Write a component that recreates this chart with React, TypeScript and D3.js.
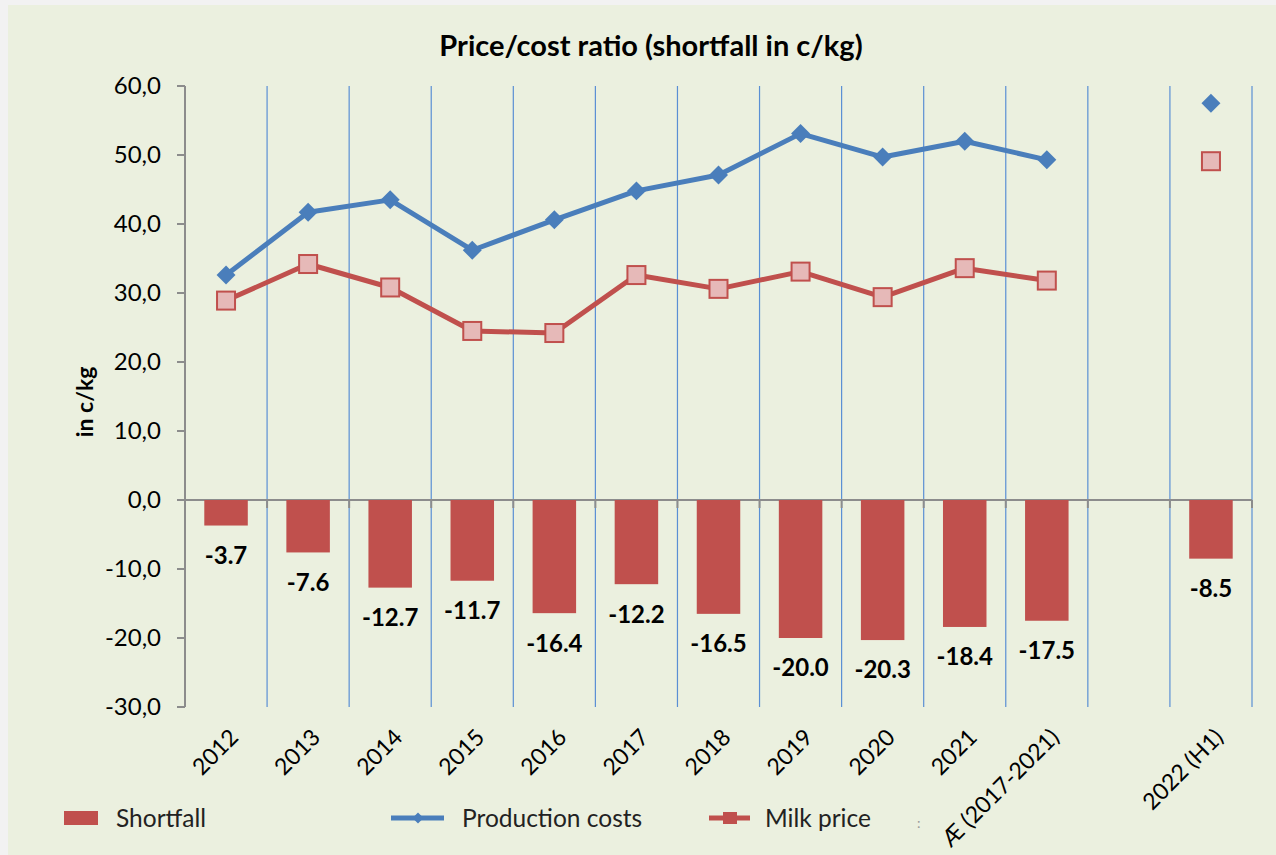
import React, { useRef, useEffect } from 'react';
import * as d3 from 'd3';

// categories (blank slot between the average and 2022)
const categories = ['2012', '2013', '2014', '2015', '2016', '2017', '2018', '2019', '2020', '2021', 'Æ (2017-2021)', '', '2022 (H1)'];
const shortfall = [-3.7, -7.6, -12.7, -11.7, -16.4, -12.2, -16.5, -20.0, -20.3, -18.4, -17.5, null, -8.5];
const productionCosts = [32.6, 41.7, 43.5, 36.2, 40.6, 44.8, 47.1, 53.1, 49.7, 52.0, 49.3, null, 57.5];
const milkPrice = [28.9, 34.2, 30.8, 24.5, 24.2, 32.6, 30.6, 33.1, 29.4, 33.6, 31.8, null, 49.1];
const yTicks = [60, 50, 40, 30, 20, 10, 0, -10, -20, -30];

const W = 1276;
const H = 855;
const BG = '#EBF0DF';
const RED = '#C0504D';
const BLUE = '#4A7EBB';
const FONT = 'Lato, "Open Sans", sans-serif';

const App = () => {
  const svgRef = useRef(null);

  useEffect(() => {
    const svg = d3.select(svgRef.current);
    svg.selectAll('*').remove();

    svg.append('rect').attr('width', W).attr('height', H).attr('fill', '#F2F2F2');
    svg.append('rect').attr('x', 8).attr('y', 5).attr('width', W - 8).attr('height', H - 5).attr('fill', BG);

    const left = 185, right = 1252, top = 86, bottom = 707;

    const x = d3.scaleBand().domain(categories.map((c, i) => String(i))).range([left, right]).paddingInner(0.47).paddingOuter(0.235);
    const step = x.step();
    const y = d3.scaleLinear().domain([-30, 60]).range([bottom, top]);

    // title
    svg.append('text')
      .attr('x', 651).attr('y', 56)
      .attr('text-anchor', 'middle')
      .attr('font-family', FONT).attr('font-weight', 700).attr('font-size', 29)
      .attr('fill', '#000')
      .text('Price/cost ratio (shortfall in c/kg)');

    // vertical category gridlines
    categories.forEach((c, i) => {
      const gx = left + step * (i + 1);
      svg.append('line')
        .attr('x1', gx).attr('x2', gx).attr('y1', top).attr('y2', bottom)
        .attr('stroke', '#5A8FD4').attr('stroke-width', 1.2);
      svg.append('line')
        .attr('x1', gx).attr('x2', gx).attr('y1', y(0)).attr('y2', y(0) + 8)
        .attr('stroke', '#8C8C8C').attr('stroke-width', 2);
    });

    // y axis
    svg.append('line')
      .attr('x1', left).attr('x2', left).attr('y1', top).attr('y2', bottom)
      .attr('stroke', '#8C8C8C').attr('stroke-width', 2);
    yTicks.forEach(t => {
      svg.append('line')
        .attr('x1', left - 8).attr('x2', left).attr('y1', y(t)).attr('y2', y(t))
        .attr('stroke', '#8C8C8C').attr('stroke-width', 2);
      svg.append('text')
        .attr('x', left - 24).attr('y', y(t))
        .attr('dy', '0.35em')
        .attr('text-anchor', 'end')
        .attr('font-family', FONT).attr('font-size', 24)
        .attr('fill', '#000')
        .text(t.toFixed(1).replace('.', ','));
    });

    // zero line
    svg.append('line')
      .attr('x1', left).attr('x2', right).attr('y1', y(0)).attr('y2', y(0))
      .attr('stroke', '#8C8C8C').attr('stroke-width', 2);

    // y label
    svg.append('text')
      .attr('transform', `translate(93, 402) rotate(-90)`)
      .attr('text-anchor', 'middle')
      .attr('font-family', FONT).attr('font-weight', 700).attr('font-size', 23)
      .attr('fill', '#000')
      .text('in c/kg');

    // bars
    shortfall.forEach((v, i) => {
      if (v == null) return;
      const bx = x(String(i));
      svg.append('rect')
        .attr('x', bx).attr('y', y(0))
        .attr('width', x.bandwidth()).attr('height', y(v) - y(0))
        .attr('fill', RED);
      svg.append('text')
        .attr('x', bx + x.bandwidth() / 2).attr('y', y(v) + 30)
        .attr('dy', '0.35em')
        .attr('text-anchor', 'middle')
        .attr('font-family', FONT).attr('font-weight', 700).attr('font-size', 24)
        .attr('fill', '#000')
        .text(v.toFixed(1));
    });

    const cx = i => x(String(i)) + x.bandwidth() / 2;

    const line = d3.line()
      .defined(d => d != null)
      .x((d, i) => cx(i))
      .y(d => y(d));

    // production costs
    svg.append('path')
      .datum(productionCosts)
      .attr('d', line)
      .attr('fill', 'none').attr('stroke', BLUE).attr('stroke-width', 5)
      .attr('stroke-linejoin', 'round');
    const diamond = d3.symbol().type(d3.symbolSquare).size(180);
    productionCosts.forEach((v, i) => {
      if (v == null) return;
      svg.append('path')
        .attr('d', diamond())
        .attr('transform', `translate(${cx(i)}, ${y(v)}) rotate(45)`)
        .attr('fill', BLUE);
    });

    // milk price
    svg.append('path')
      .datum(milkPrice)
      .attr('d', line)
      .attr('fill', 'none').attr('stroke', RED).attr('stroke-width', 5)
      .attr('stroke-linejoin', 'round');
    milkPrice.forEach((v, i) => {
      if (v == null) return;
      svg.append('rect')
        .attr('x', cx(i) - 9).attr('y', y(v) - 9)
        .attr('width', 18).attr('height', 18)
        .attr('fill', '#E6B9B8').attr('stroke', RED).attr('stroke-width', 2);
    });

    // x labels rotated
    categories.forEach((c, i) => {
      if (!c) return;
      svg.append('text')
        .attr('transform', `translate(${cx(i) + 8}, ${bottom + 26}) rotate(-45)`)
        .attr('text-anchor', 'end')
        .attr('dy', '0.35em')
        .attr('font-family', FONT).attr('font-size', 23)
        .attr('fill', '#000')
        .text(c);
    });

    // legend
    const ly = 818;
    svg.append('rect').attr('x', 64).attr('y', ly - 7).attr('width', 34).attr('height', 14).attr('fill', RED);
    svg.append('text').attr('x', 116).attr('y', ly).attr('dy', '0.35em')
      .attr('font-family', FONT).attr('font-size', 24.5).attr('fill', '#222').text('Shortfall');

    svg.append('line').attr('x1', 391).attr('x2', 444).attr('y1', ly).attr('y2', ly)
      .attr('stroke', BLUE).attr('stroke-width', 5);
    svg.append('path').attr('d', d3.symbol().type(d3.symbolSquare).size(60)())
      .attr('transform', `translate(418, ${ly}) rotate(45)`).attr('fill', BLUE);
    svg.append('text').attr('x', 462).attr('y', ly).attr('dy', '0.35em')
      .attr('font-family', FONT).attr('font-size', 24.5).attr('fill', '#222').text('Production costs');

    svg.append('line').attr('x1', 709).attr('x2', 750).attr('y1', ly).attr('y2', ly)
      .attr('stroke', RED).attr('stroke-width', 5);
    svg.append('rect').attr('x', 723).attr('y', ly - 6).attr('width', 14).attr('height', 12).attr('fill', RED);
    svg.append('text').attr('x', 765).attr('y', ly).attr('dy', '0.35em')
      .attr('font-family', FONT).attr('font-size', 24.5).attr('fill', '#222').text('Milk price');
    svg.append('text').attr('x', 917).attr('y', 828)
      .attr('font-family', FONT).attr('font-size', 14).attr('fill', '#999').text(':');
  }, []);

  return (
    <div style={{ position: 'absolute', left: 0, top: 0 }}>
      <svg ref={svgRef} width={W} height={H} style={{ display: 'block' }}></svg>
    </div>
  );
};

export default App;
